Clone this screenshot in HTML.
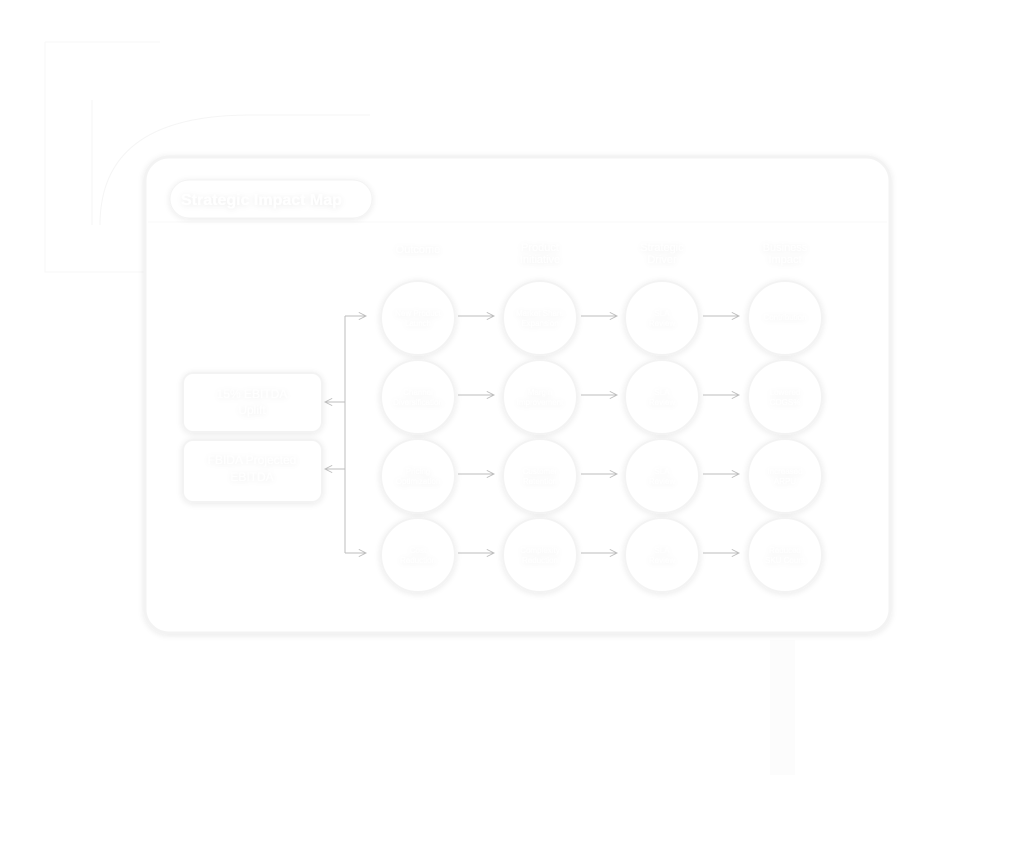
<!DOCTYPE html>
<html><head><style>
html,body{margin:0;padding:0;background:#fff;width:1024px;height:859px;overflow:hidden;font-family:"Liberation Sans",sans-serif}
svg{position:absolute;left:0;top:0}
text{font-family:"Liberation Sans",sans-serif;fill:#fff}
</style></head><body>
<svg width="1024" height="859" viewBox="0 0 1024 859">
<defs>
<filter id="sh" x="-30%" y="-30%" width="160%" height="160%"><feGaussianBlur in="SourceAlpha" stdDeviation="3.5"/><feOffset dy="1"/><feComponentTransfer><feFuncA type="linear" slope="0.09"/></feComponentTransfer><feMerge><feMergeNode/><feMergeNode in="SourceGraphic"/></feMerge></filter>
<marker id="ar" viewBox="0 0 10 10" refX="9" refY="5" markerWidth="9" markerHeight="9" orient="auto"><path d="M1,1 L9,5 L1,9" fill="none" stroke="#bcbcbc" stroke-width="1"/></marker>
</defs>
<path d="M45 42 H160 M45 42 V272 H390" fill="none" stroke="#f7f7f7"/>
<path d="M92 100 V225 M100 225 Q100 115 250 115 H370" fill="none" stroke="#f5f5f5"/>
<rect x="770" y="640" width="25" height="135" fill="#fcfcfc"/>
<rect x="145" y="157" width="745" height="476" rx="24" fill="#fff" stroke="#f3f3f3" stroke-width="3" filter="url(#sh)"/>
<line x1="148" y1="222" x2="887" y2="222" stroke="#f8f8f8"/>
<rect x="170" y="180" width="202" height="38" rx="19" fill="#fff" stroke="#f3f3f3" filter="url(#sh)"/>
<text x="181" y="205" font-size="16" font-weight="bold" filter="url(#sh)">Strategic Impact Map</text>
<g font-size="11" text-anchor="middle" filter="url(#sh)">
<text x="418" y="253">Outcome</text>
<text x="540" y="251">Product</text><text x="540" y="263">Initiative</text>
<text x="662" y="251">Strategic</text><text x="662" y="263">Driver</text>
<text x="785" y="251">Business</text><text x="785" y="263">Impact</text>
</g>
<g fill="#fff" stroke="#f3f3f3" stroke-width="2" filter="url(#sh)">
<rect x="183" y="373" width="139" height="59" rx="10"/>
<rect x="183" y="440" width="139" height="62" rx="10"/>
</g>
<g font-size="12" text-anchor="middle" filter="url(#sh)">
<text x="252" y="398">15% EBITDA</text><text x="252" y="414">Uplift</text>
<text x="252" y="464">FBIDA Projected</text><text x="252" y="481">EBITDA</text>
</g>
<g fill="none" stroke="#bcbcbc" stroke-width="1">
<path d="M345 316 V553"/>
<line x1="345" y1="316" x2="366" y2="316" marker-end="url(#ar)"/>
<line x1="345" y1="553" x2="366" y2="553" marker-end="url(#ar)"/>
<line x1="345" y1="402" x2="325" y2="402" marker-end="url(#ar)"/>
<line x1="345" y1="469" x2="325" y2="469" marker-end="url(#ar)"/>
</g>
<g fill="#fff" stroke="#f3f3f3" stroke-width="2" filter="url(#sh)">
<circle cx="418" cy="318" r="37"/><circle cx="540" cy="318" r="37"/><circle cx="662" cy="318" r="37"/><circle cx="785" cy="318" r="37"/>
<circle cx="418" cy="397" r="37"/><circle cx="540" cy="397" r="37"/><circle cx="662" cy="397" r="37"/><circle cx="785" cy="397" r="37"/>
<circle cx="418" cy="476" r="37"/><circle cx="540" cy="476" r="37"/><circle cx="662" cy="476" r="37"/><circle cx="785" cy="476" r="37"/>
<circle cx="418" cy="555" r="37"/><circle cx="540" cy="555" r="37"/><circle cx="662" cy="555" r="37"/><circle cx="785" cy="555" r="37"/>
</g>
<g stroke="#bcbcbc" stroke-width="1" marker-end="url(#ar)">
<line x1="458" y1="316" x2="494" y2="316"/><line x1="581" y1="316" x2="617" y2="316"/><line x1="703" y1="316" x2="739" y2="316"/>
<line x1="458" y1="395" x2="494" y2="395"/><line x1="581" y1="395" x2="617" y2="395"/><line x1="703" y1="395" x2="739" y2="395"/>
<line x1="458" y1="474" x2="494" y2="474"/><line x1="581" y1="474" x2="617" y2="474"/><line x1="703" y1="474" x2="739" y2="474"/>
<line x1="458" y1="553" x2="494" y2="553"/><line x1="581" y1="553" x2="617" y2="553"/><line x1="703" y1="553" x2="739" y2="553"/>
</g>
<g font-size="8" text-anchor="middle" filter="url(#sh)">
<text x="418" y="316">New Product</text><text x="418" y="326">Launch</text>
<text x="540" y="316">Market Share</text><text x="540" y="326">Expansion</text>
<text x="662" y="316">SLA</text><text x="662" y="326">Review</text>
<text x="785" y="320">Contribution</text>
<text x="418" y="395">Channel</text><text x="418" y="405">Diversification</text>
<text x="540" y="395">Margin</text><text x="540" y="405">Improvement</text>
<text x="662" y="395">SLA</text><text x="662" y="405">Review</text>
<text x="785" y="395">Lowered</text><text x="785" y="405">COGS%</text>
<text x="418" y="474">Pricing</text><text x="418" y="484">Optimization</text>
<text x="540" y="474">Customer</text><text x="540" y="484">Retention</text>
<text x="662" y="474">SLA</text><text x="662" y="484">Review</text>
<text x="785" y="474">Increased</text><text x="785" y="484">ARPU</text>
<text x="418" y="553">Cost</text><text x="418" y="563">Reduction</text>
<text x="540" y="553">Complexity</text><text x="540" y="563">Reduction</text>
<text x="662" y="553">SLA</text><text x="662" y="563">Review</text>
<text x="785" y="553">Reduced</text><text x="785" y="563">SKU Count</text>
</g>
</svg>
</body></html>
